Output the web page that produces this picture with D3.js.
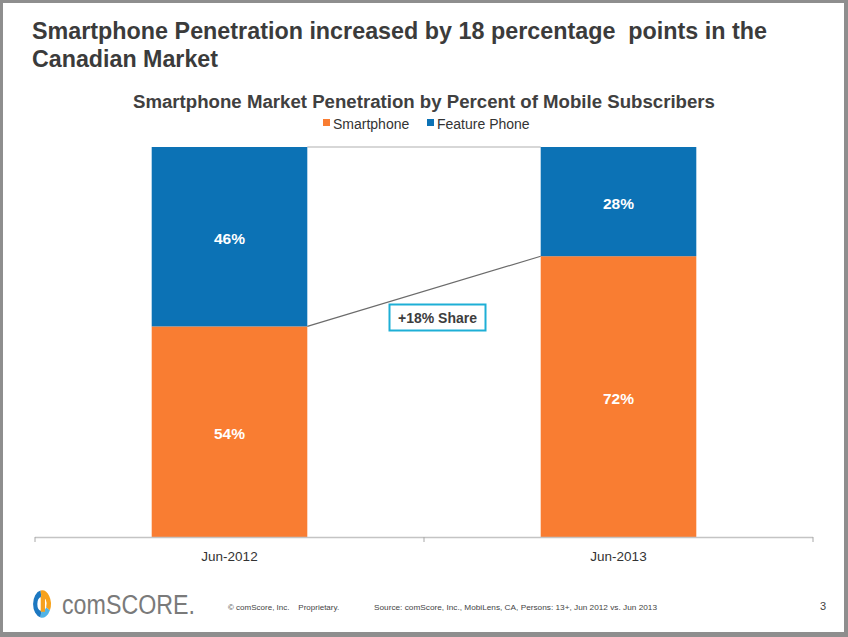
<!DOCTYPE html>
<html>
<head>
<meta charset="utf-8">
<script src="https://cdn.jsdelivr.net/npm/d3@7"></script>
<style>
  html, body { margin: 0; padding: 0; background: #fff; }
  svg { display: block; font-family: "Liberation Sans", Arial, Helvetica, sans-serif; }
  text { white-space: pre; }
</style>
</head>
<body>
<svg id="chart" width="848" height="637"></svg>
<script>
// ---- data ----
const categories = ["Jun-2012", "Jun-2013"];
const seriesNames = ["Smartphone", "Feature Phone"];
const smartphone = [54, 72];
const featurePhone = [46, 28];
const annotation = "+18% Share";
const slideTitle = ["Smartphone Penetration increased by 18 percentage  points in the", "Canadian Market"];
const chartTitle = "Smartphone Market Penetration by Percent of Mobile Subscribers";
const footerCopy = "© comScore, Inc.    Proprietary.";
const footerSource = "Source: comScore, Inc., MobiLens, CA, Persons: 13+, Jun 2012 vs. Jun 2013";
const pageNumber = "3";

const colors = { "Smartphone": "#f97d32", "Feature Phone": "#0c72b5" };

const svg = d3.select("#chart");
const W = 848, H = 637;

// frame
svg.append("rect").attr("x", 0).attr("y", 0).attr("width", W).attr("height", H).attr("fill", "#8e8e8e");
svg.append("rect").attr("x", 3).attr("y", 3).attr("width", 841).attr("height", 629).attr("fill", "#fff");

// slide title
svg.selectAll(".stitle").data(slideTitle).join("text")
  .attr("x", 32).attr("y", (d, i) => 39 + i * 28)
  .attr("font-size", 24).attr("font-weight", "bold").attr("fill", "#3b3b3b")
  .attr("textLength", (d, i) => i === 0 ? 735 : 186).attr("lengthAdjust", "spacingAndGlyphs")
  .text(d => d);

// chart title
svg.append("text").attr("x", 424).attr("y", 108).attr("text-anchor", "middle")
  .attr("font-size", 17.5).attr("font-weight", "bold").attr("fill", "#404040")
  .attr("textLength", 582).attr("lengthAdjust", "spacingAndGlyphs")
  .text(chartTitle);

// legend
const legendX = [323, 427];
const lg = svg.selectAll(".lg").data(seriesNames).join("g")
  .attr("transform", (d, i) => `translate(${legendX[i]},0)`);
lg.append("rect").attr("x", 0).attr("y", 119).attr("width", 7).attr("height", 7).attr("fill", d => colors[d]);
lg.append("text").attr("x", 10).attr("y", 128.5).attr("font-size", 14).attr("fill", "#333").text(d => d);

// scales
const x = d3.scaleBand().domain(categories).range([35, 813]).paddingInner(0.6).paddingOuter(0.3);
const y = d3.scaleLinear().domain([0, 100]).range([537, 147]);

const table = categories.map((c, i) => ({ cat: c, "Smartphone": smartphone[i], "Feature Phone": featurePhone[i] }));
const stacked = d3.stack().keys(seriesNames)(table);

// series lines (connectors)
const c0 = categories[0], c1 = categories[1];
stacked.forEach((s, si) => {
  svg.append("line")
    .attr("x1", x(c0) + x.bandwidth()).attr("y1", y(s[0][1]))
    .attr("x2", x(c1)).attr("y2", y(s[1][1]))
    .attr("stroke", si === 0 ? "#6b6b6b" : "#b0b0b0").attr("stroke-width", 1.2);
});

// bars
const groups = svg.selectAll(".series").data(stacked).join("g").attr("fill", d => colors[d.key]);
groups.selectAll("rect").data(d => d).join("rect")
  .attr("x", d => x(d.data.cat))
  .attr("y", d => y(d[1]))
  .attr("width", x.bandwidth())
  .attr("height", d => y(d[0]) - y(d[1]));

// value labels
stacked.forEach((s) => {
  s.forEach((d) => {
    svg.append("text")
      .attr("x", x(d.data.cat) + x.bandwidth() / 2)
      .attr("y", (y(d[0]) + y(d[1])) / 2 + 7)
      .attr("text-anchor", "middle").attr("font-size", 15.5).attr("font-weight", "bold").attr("fill", "#fff")
      .text(d.data[s.key] + "%");
  });
});

// annotation box
svg.append("rect").attr("x", 389.5).attr("y", 304.5).attr("width", 96).attr("height", 26)
  .attr("fill", "#fff").attr("stroke", "#1eafd6").attr("stroke-width", 2);
svg.append("text").attr("x", 437.5).attr("y", 322.5).attr("text-anchor", "middle")
  .attr("font-size", 14).attr("font-weight", "bold").attr("fill", "#3d3d3d").text(annotation);

// x axis
svg.append("line").attr("x1", 35).attr("x2", 813).attr("y1", 537.5).attr("y2", 537.5).attr("stroke", "#c4c4c4").attr("stroke-width", 1.5);
const tickXs = [35, (x(c0) + x.bandwidth() + x(c1)) / 2, 813];
svg.selectAll(".tk").data(tickXs).join("line")
  .attr("x1", d => d).attr("x2", d => d).attr("y1", 537).attr("y2", 542)
  .attr("stroke", "#a8a8a8").attr("stroke-width", 1);
svg.selectAll(".xl").data(categories).join("text")
  .attr("x", d => x(d) + x.bandwidth() / 2).attr("y", 561)
  .attr("text-anchor", "middle").attr("font-size", 13.5).attr("fill", "#333").text(d => d);

// footer logo
const logo = svg.append("g").attr("transform", "translate(42,604) scale(0.85,1.3)");
const arc = d3.arc();
logo.append("path").attr("d", arc({ innerRadius: 5.5, outerRadius: 10.5, startAngle: Math.PI * 1.05, endAngle: Math.PI * 1.95 })).attr("fill", "#1d78c1");
logo.append("path").attr("d", arc({ innerRadius: 5.5, outerRadius: 10.5, startAngle: Math.PI * 0.65, endAngle: Math.PI * 1.05 })).attr("fill", "#52b4e6");
logo.append("path").attr("d", arc({ innerRadius: 5.5, outerRadius: 10.5, startAngle: -Math.PI * 0.05, endAngle: Math.PI * 0.65 })).attr("fill", "#f7a21b");
logo.append("rect").attr("x", -1.5).attr("y", -6).attr("width", 5).attr("height", 12).attr("fill", "#f6a11e");
svg.append("text").attr("x", 62).attr("y", 614).attr("font-size", 27).attr("fill", "#7a7a7a")
  .attr("textLength", 133).attr("lengthAdjust", "spacingAndGlyphs").text("comSCORE.");

svg.append("text").attr("x", 228).attr("y", 610).attr("font-size", 8).attr("fill", "#444").text(footerCopy);
svg.append("text").attr("x", 374).attr("y", 610).attr("font-size", 8).attr("fill", "#444")
  .attr("textLength", 283).attr("lengthAdjust", "spacingAndGlyphs").text(footerSource);
svg.append("text").attr("x", 820).attr("y", 610).attr("font-size", 11).attr("fill", "#444").text(pageNumber);
</script>
</body>
</html>
